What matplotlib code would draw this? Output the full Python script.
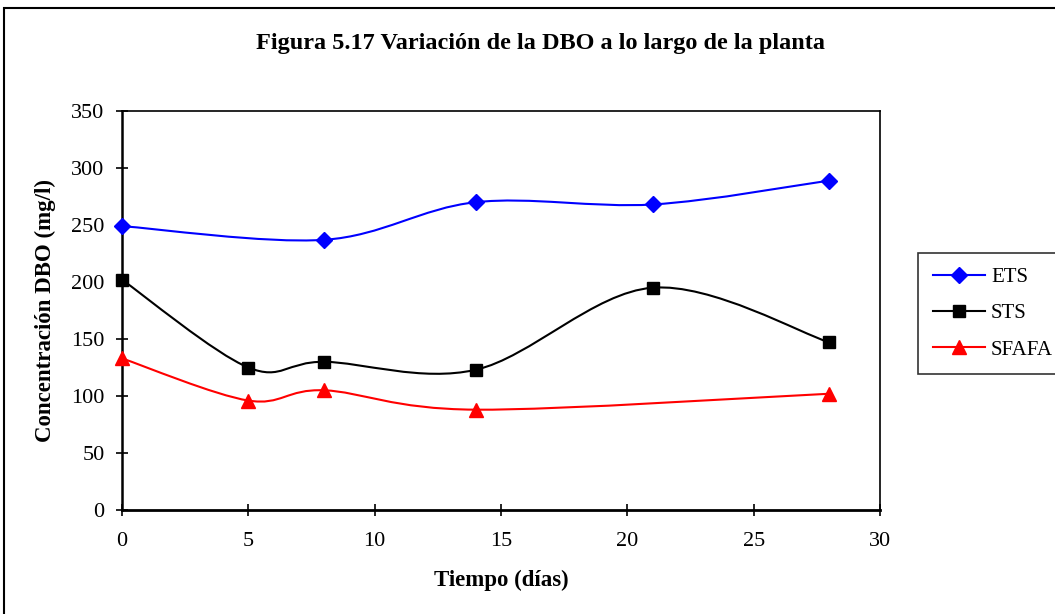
import matplotlib.pyplot as plt
import numpy as np
from matplotlib.path import Path
from matplotlib.patches import PathPatch, Rectangle
from matplotlib.lines import Line2D

plt.rcParams['font.family'] = ['Liberation Serif', 'DejaVu Serif']

ets_x = [0, 8, 14, 21, 28]
ets_y = [249, 237, 270, 268, 289]
sts_x = [0, 5, 8, 14, 21, 28]
sts_y = [202, 125, 130, 123, 195, 147]
sfafa_x = [0, 5, 8, 14, 28]
sfafa_y = [133, 96, 105, 88, 102]

series = [
    ("ETS", ets_x, ets_y, "#0000ff", "D", 8.5),
    ("STS", sts_x, sts_y, "#000000", "s", 9),
    ("SFAFA", sfafa_x, sfafa_y, "#ff0000", "^", 10),
]


def smooth_path(xs, ys):
    # Excel-like smoothed line: cubic bezier with catmull-rom style handles
    p = np.column_stack([xs, ys]).astype(float)
    n = len(p)
    verts = [p[0]]
    codes = [Path.MOVETO]
    for i in range(n - 1):
        prev = p[i - 1] if i > 0 else p[i]
        nxt = p[i + 2] if i + 2 < n else p[i + 1]
        c1 = p[i] + (p[i + 1] - prev) / 6.0
        c2 = p[i + 1] - (nxt - p[i]) / 6.0
        verts += [c1, c2, p[i + 1]]
        codes += [Path.CURVE4] * 3
    return Path(verts, codes)


W, H = 1055, 614
fig = plt.figure(figsize=(W / 100, H / 100), dpi=100)
ax = fig.add_axes([122 / W, 1 - 510 / H, (880 - 122) / W, (510 - 111) / H])

handles = []
for name, xs, ys, col, mk, ms in series:
    ax.add_patch(PathPatch(smooth_path(xs, ys), facecolor="none", edgecolor=col, lw=1.5, zorder=2))
    ax.plot(xs, ys, linestyle="none", marker=mk, color=col, markersize=ms, zorder=3, clip_on=False)
    handles.append(Line2D([], [], color=col, lw=1.5, marker=mk, markersize=ms, label=name))

ax.set_xlim(0, 30)
ax.set_ylim(0, 350)
ax.set_xticks(range(0, 31, 5))
ax.set_yticks(range(0, 351, 50))
ax.tick_params(direction="inout", length=9, width=1.2, labelsize=16)
ax.tick_params(axis="y", pad=8)
ax.tick_params(axis="x", pad=11)
for s in ax.spines.values():
    s.set_linewidth(1.2)
ax.spines["bottom"].set_linewidth(2)
ax.spines["left"].set_linewidth(1.8)

ax.set_xlabel("Tiempo (días)", fontsize=16.5, fontweight="bold", va="center")
ax.set_ylabel("Concentración DBO (mg/l)", fontsize=16.5, fontweight="bold", va="center")
ax.xaxis.set_label_coords(501 / W, 1 - 580 / H, transform=fig.transFigure)
ax.yaxis.set_label_coords(45 / W, 1 - 311 / H, transform=fig.transFigure)
fig.text(541 / W, 1 - 43 / H, "Figura 5.17 Variación de la DBO a lo largo de la planta",
         ha="center", va="center", fontsize=17.5, fontweight="bold")

leg = fig.legend(handles=handles, loc="upper left", bbox_to_anchor=(918 / W, 1 - 253 / H),
                 fontsize=15, frameon=True, fancybox=False, edgecolor="black",
                 handlelength=2.5, labelspacing=0.8, borderpad=0.7, borderaxespad=0,
                 handletextpad=0.3)
leg.get_frame().set_linewidth(1.2)

fig.patches.append(Rectangle((4 / W, -0.1), 1.2, 1 - 8 / H + 0.1, transform=fig.transFigure,
                             fill=False, edgecolor="black", lw=1.5))

fig.savefig("out.png", dpi=100)
